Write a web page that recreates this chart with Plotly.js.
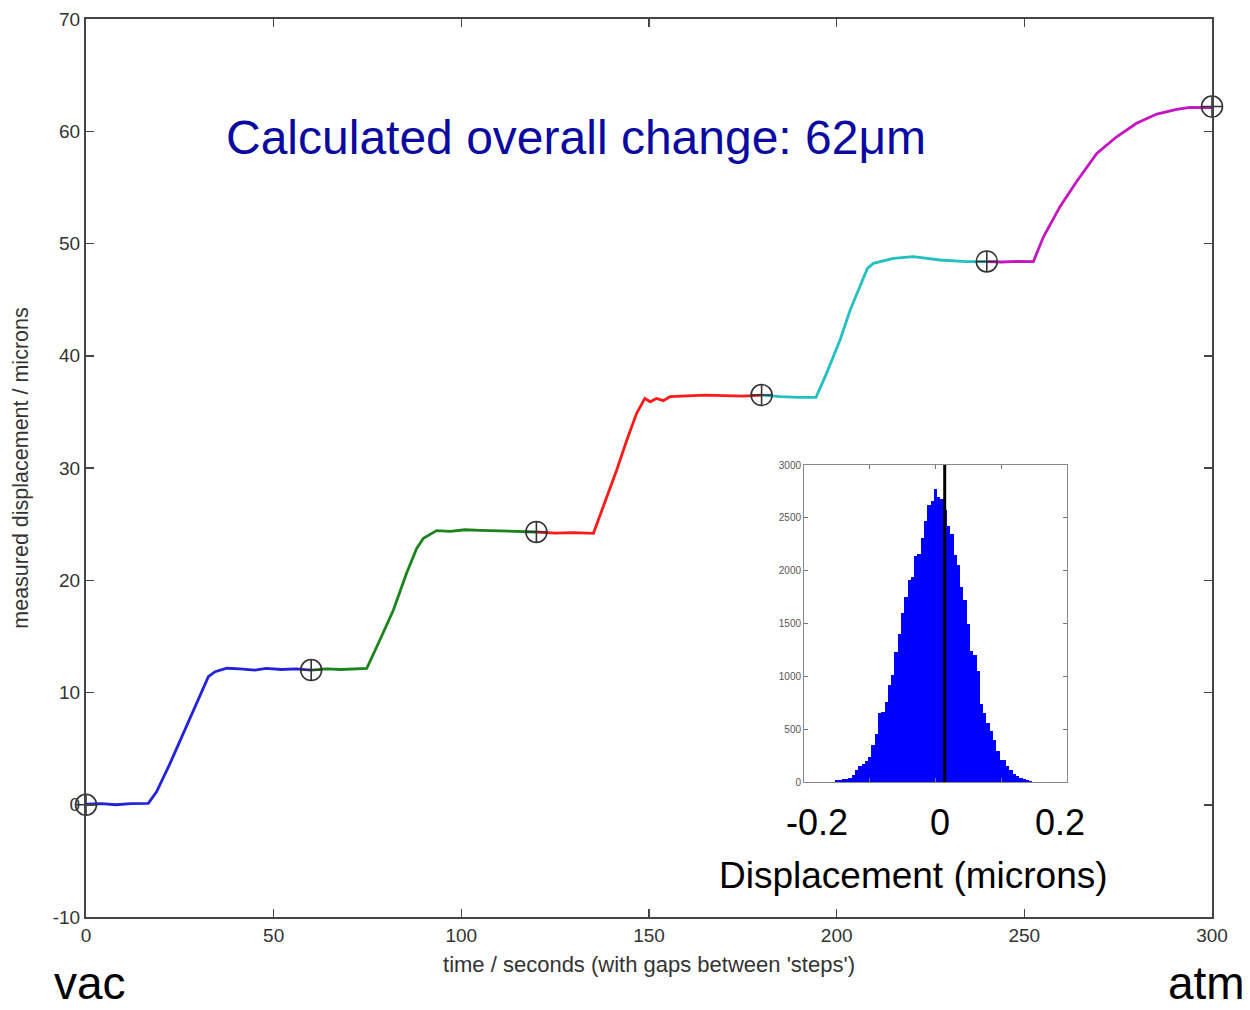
<!DOCTYPE html>
<html>
<head>
<meta charset="utf-8">
<script src="https://cdn.plot.ly/plotly-3.0.1.min.js"></script>
<style>html,body{margin:0;padding:0;background:#fff;}#chart{width:1250px;height:1010px;}</style>
</head>
<body>
<div id="chart"></div>
<script>
// ---- main displacement steps (time in s, displacement in microns) ----
var tBlue  = [0, 4, 8, 12, 16.6, 18.8, 22.4, 25.9, 28.6, 31.3, 32.6, 34.4, 37.5, 41, 45, 48, 52, 56, 60];
var yBlue  = [0.05, 0.1, 0.0, 0.1, 0.13, 1.16, 3.69, 6.36, 8.44, 10.52, 11.41, 11.85, 12.16, 12.1, 12.0, 12.15, 12.05, 12.1, 12.0];

var tGreen = [60, 64, 68, 72, 74.8, 78.3, 81.9, 85.4, 88.1, 89.9, 93.4, 97, 101, 105, 110, 115, 120];
var yGreen = [12.0, 12.1, 12.05, 12.1, 12.15, 14.68, 17.35, 20.62, 22.84, 23.74, 24.42, 24.35, 24.5, 24.45, 24.4, 24.35, 24.3];

var tRed   = [120, 125, 130, 135.2, 137.8, 141.4, 144.1, 146.7, 148.9, 150.3, 152, 153.8, 155.6, 160, 165, 170, 175, 180];
var yRed   = [24.3, 24.2, 24.25, 24.18, 26.55, 29.82, 32.49, 34.87, 36.2, 35.9, 36.2, 36.0, 36.35, 36.4, 36.5, 36.45, 36.4, 36.5];

var tCyan  = [180, 185, 190, 194.5, 197.3, 200.9, 203.6, 206.2, 208.2, 209.8, 215.1, 220.4, 227.5, 234.6, 240];
var yCyan  = [36.5, 36.35, 36.3, 36.3, 38.43, 41.4, 44.07, 46.15, 47.79, 48.23, 48.68, 48.83, 48.53, 48.38, 48.38];

var tMag   = [240, 244, 248, 252.4, 255.1, 259.5, 263.9, 269.3, 274.6, 279.9, 285.3, 290.6, 294.1, 300];
var yMag   = [48.38, 48.35, 48.4, 48.38, 50.6, 53.28, 55.5, 58.03, 59.51, 60.71, 61.53, 61.95, 62.13, 62.1];

var tMark  = [0, 60, 120, 180, 240, 300];
var yMark  = [0, 12.0, 24.3, 36.5, 48.4, 62.2];

// ---- inset histogram ----
var binCenters = [-0.30,-0.29,-0.28,-0.27,-0.26,-0.25,-0.24,-0.23,-0.22,-0.21,-0.20,-0.19,-0.18,-0.17,-0.16,-0.15,-0.14,-0.13,-0.12,-0.11,-0.10,-0.09,-0.08,-0.07,-0.06,-0.05,-0.04,-0.03,-0.02,-0.01,0.00,0.01,0.02,0.03,0.04,0.05,0.06,0.07,0.08,0.09,0.10,0.11,0.12,0.13,0.14,0.15,0.16,0.17,0.18,0.19,0.20,0.21,0.22,0.23,0.24,0.25,0.26,0.27,0.28,0.29,0.30];
var binCounts  = [15,20,25,30,40,70,115,150,170,195,240,350,450,650,660,760,920,1010,1230,1400,1600,1750,1910,1940,2140,2160,2310,2470,2620,2660,2770,2700,2680,2570,2420,2350,2150,2050,1850,1720,1500,1240,1200,1050,740,650,560,480,400,290,210,205,150,110,75,55,40,30,15,8,5];
var meanX = [0.028, 0.028];
var meanY = [0, 3000];

// ---- tick labels / texts ----
var xTicks = [0, 50, 100, 150, 200, 250, 300];
var yTicks = [-10, 0, 10, 20, 30, 40, 50, 60, 70];
var insetYTicks = [0, 500, 1000, 1500, 2000, 2500, 3000];
var insetLabels = ['-0.2', '0', '0.2'];

function seg(t, y, c) {
  return {x: t, y: y, type: 'scatter', mode: 'lines', line: {color: c, width: 2.8}, hoverinfo: 'skip', showlegend: false};
}

var traces = [
  seg(tBlue, yBlue, '#2222dd'),
  seg(tGreen, yGreen, '#1c841c'),
  seg(tRed, yRed, '#ff1a1a'),
  seg(tCyan, yCyan, '#22c0c0'),
  seg(tMag, yMag, '#c414c4'),
  {x: tMark, y: yMark, type: 'scatter', mode: 'markers', cliponaxis: false, showlegend: false,
   marker: {symbol: 'circle-cross-open', size: 21, color: '#333333', line: {width: 1.6, color: '#333333'}}},
  {x: binCenters, y: binCounts, type: 'bar', xaxis: 'x2', yaxis: 'y2', width: 0.01,
   marker: {color: '#0000ff', line: {width: 0}}, showlegend: false},
  {x: meanX, y: meanY, type: 'scatter', mode: 'lines', xaxis: 'x2', yaxis: 'y2',
   line: {color: '#000000', width: 3}, showlegend: false}
];

var tickFont = {family: 'Liberation Sans, Arial, sans-serif', size: 19, color: '#333333'};
var titleFont = {family: 'Liberation Sans, Arial, sans-serif', size: 22, color: '#333333'};
var bigFont = {family: 'Liberation Sans, Arial, sans-serif', size: 46, color: '#000000'};
var midFont = {family: 'Liberation Sans, Arial, sans-serif', size: 36, color: '#000000'};

var layout = {
  width: 1250, height: 1010,
  margin: {l: 86, r: 38, t: 19, b: 93},
  paper_bgcolor: '#ffffff', plot_bgcolor: '#ffffff',
  showlegend: false,
  bargap: 0,
  xaxis: {
    range: [0, 300], tickvals: xTicks, ticktext: xTicks.map(String),
    ticks: 'inside', ticklen: 8, tickwidth: 1.5, tickcolor: '#444',
    showline: true, linecolor: '#444', linewidth: 2, mirror: 'ticks',
    showgrid: false, zeroline: false, tickfont: tickFont,
    title: {text: "time / seconds (with gaps between 'steps')", font: titleFont, standoff: 12},
    domain: [0, 1]
  },
  yaxis: {
    range: [-10, 70], tickvals: yTicks, ticktext: yTicks.map(String),
    ticks: 'inside', ticklen: 8, tickwidth: 1.5, tickcolor: '#444',
    showline: true, linecolor: '#444', linewidth: 2, mirror: 'ticks',
    showgrid: false, zeroline: false, tickfont: tickFont,
    title: {text: 'measured displacement / microns', font: {family: 'Liberation Sans, Arial, sans-serif', size: 21.5, color: '#333333'}, standoff: 18},
    domain: [0, 1]
  },
  xaxis2: {
    domain: [0.6377, 0.8712], anchor: 'y2', range: [-0.4, 0.4], dtick: 0.2,
    ticks: 'inside', ticklen: 4, tickcolor: '#777', showticklabels: false,
    showline: true, linecolor: '#888', linewidth: 1, mirror: 'ticks',
    showgrid: false, zeroline: false
  },
  yaxis2: {
    domain: [0.1503, 0.5033], anchor: 'x2', range: [0, 3000], tickvals: insetYTicks,
    ticks: 'inside', ticklen: 4, tickcolor: '#777',
    tickfont: {family: 'Liberation Sans, Arial, sans-serif', size: 10, color: '#555'},
    showline: true, linecolor: '#888', linewidth: 1, mirror: 'ticks',
    showgrid: false, zeroline: false
  },
  annotations: [
    {text: 'Calculated overall change: 62\u03bcm', xref: 'paper', yref: 'paper', x: 0.435, y: 0.8675,
     xanchor: 'center', yanchor: 'middle', showarrow: false,
     font: {family: 'Liberation Sans, Arial, sans-serif', size: 48, color: '#0a0aa0'}},
    {text: 'vac', xref: 'paper', yref: 'paper', x: 0.0036, y: -0.0740, xanchor: 'center', yanchor: 'middle', showarrow: false, font: bigFont},
    {text: 'atm', xref: 'paper', yref: 'paper', x: 0.9955, y: -0.0740, xanchor: 'center', yanchor: 'middle', showarrow: false, font: bigFont},
    {text: insetLabels[0], xref: 'paper', yref: 'paper', x: (817-86)/1126, y: 0.1052, xanchor: 'center', yanchor: 'middle', showarrow: false, font: midFont},
    {text: insetLabels[1], xref: 'paper', yref: 'paper', x: (940-86)/1126, y: 0.1052, xanchor: 'center', yanchor: 'middle', showarrow: false, font: midFont},
    {text: insetLabels[2], xref: 'paper', yref: 'paper', x: (1060-86)/1126, y: 0.1052, xanchor: 'center', yanchor: 'middle', showarrow: false, font: midFont},
    {text: 'Displacement (microns)', xref: 'paper', yref: 'paper', x: (913-86)/1126, y: 0.0462, xanchor: 'center', yanchor: 'middle', showarrow: false,
     font: {family: 'Liberation Sans, Arial, sans-serif', size: 37, color: '#000'}}
  ]
};

Plotly.newPlot('chart', traces, layout, {displayModeBar: false, staticPlot: true});
</script>
</body>
</html>
